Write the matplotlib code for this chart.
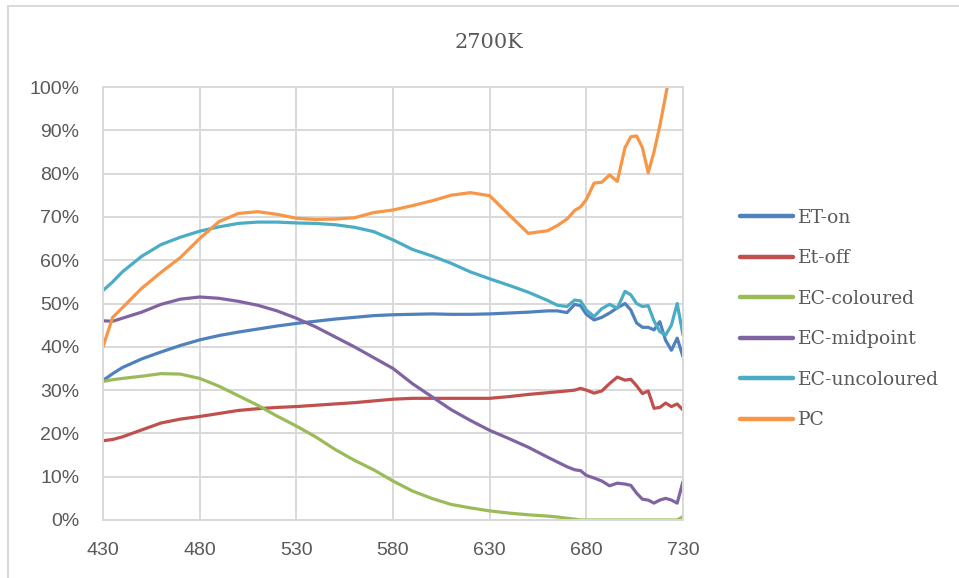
import matplotlib
matplotlib.use("Agg")
import matplotlib.pyplot as plt
from matplotlib.lines import Line2D
from matplotlib.ticker import PercentFormatter

wavelength = [430, 435, 440, 450, 460, 470, 480, 490, 500, 510, 520, 530, 540, 550,
              560, 570, 580, 590, 600, 610, 620, 630, 640, 650, 660, 665, 670, 674,
              677, 680, 684, 688, 692, 696, 700, 703, 706, 709, 712, 715, 718, 721,
              724, 727, 730]

et_on = [32.2, 33.8, 35.2, 37.2, 38.8, 40.3, 41.6, 42.6, 43.4, 44.1, 44.8, 45.4, 45.9, 46.4,
         46.8, 47.2, 47.4, 47.5, 47.6, 47.5, 47.5, 47.6, 47.8, 48.0, 48.3, 48.3, 47.9, 49.8,
         49.5, 47.5, 46.2, 46.8, 47.8, 49.0, 50.0, 48.5, 45.5, 44.5, 44.5, 43.9, 45.8, 41.5,
         39.2, 42.0, 37.7]

et_off = [18.3, 18.6, 19.2, 20.8, 22.4, 23.3, 23.9, 24.6, 25.3, 25.7, 26.0, 26.2, 26.5, 26.8,
          27.1, 27.5, 27.9, 28.1, 28.1, 28.1, 28.1, 28.1, 28.5, 29.0, 29.4, 29.6, 29.8, 30.0,
          30.4, 30.0, 29.3, 29.8, 31.5, 33.0, 32.3, 32.5, 31.0, 29.2, 29.8, 25.8, 26.0, 27.0,
          26.2, 26.8, 25.4]

ec_coloured = [32.0, 32.4, 32.7, 33.2, 33.8, 33.7, 32.7, 30.9, 28.7, 26.5, 24.0, 21.7, 19.2, 16.3,
               13.8, 11.6, 9.0, 6.7, 5.0, 3.6, 2.8, 2.1, 1.6, 1.2, 0.9, 0.7, 0.4, 0.2,
               0.0, 0.0, 0.0, 0.0, 0.0, 0.0, 0.0, 0.0, 0.0, 0.0, 0.0, 0.0, 0.0, 0.0,
               0.0, 0.0, 0.8]

ec_midpoint = [46.0, 45.9, 46.6, 48.0, 49.8, 51.0, 51.5, 51.2, 50.5, 49.6, 48.3, 46.6, 44.6, 42.3,
               40.0, 37.5, 35.0, 31.5, 28.5, 25.5, 23.0, 20.7, 18.8, 16.8, 14.5, 13.4, 12.3, 11.6,
               11.4, 10.3, 9.7, 9.0, 7.9, 8.5, 8.3, 8.0, 6.2, 4.8, 4.6, 3.9, 4.6, 5.0,
               4.6, 3.9, 8.9]

ec_uncoloured = [53.0, 55.0, 57.3, 60.9, 63.6, 65.3, 66.7, 67.7, 68.5, 68.8, 68.8, 68.6, 68.5, 68.2,
                 67.6, 66.6, 64.7, 62.5, 61.0, 59.3, 57.3, 55.7, 54.2, 52.6, 50.7, 49.6, 49.3, 50.8,
                 50.6, 48.5, 47.0, 48.8, 49.8, 48.9, 52.8, 52.0, 50.0, 49.3, 49.5, 46.0, 43.5, 42.7,
                 45.0, 50.0, 42.7]

pc = [40.0, 46.8, 49.0, 53.5, 57.2, 60.6, 65.0, 68.9, 70.8, 71.2, 70.6, 69.7, 69.4, 69.5,
      69.8, 71.0, 71.6, 72.6, 73.7, 75.0, 75.6, 74.9, 70.5, 66.2, 66.8, 68.0, 69.5, 71.5,
      72.3, 74.0, 77.8, 78.0, 79.7, 78.2, 86.0, 88.5, 88.7, 86.0, 80.2, 85.0, 91.0, 98.0,
      105.0, 111.0, 117.0]

series = [
    ("ET-on", et_on, "#4F81BD"),
    ("Et-off", et_off, "#C0504D"),
    ("EC-coloured", ec_coloured, "#9BBB59"),
    ("EC-midpoint", ec_midpoint, "#8064A2"),
    ("EC-uncoloured", ec_uncoloured, "#4BACC6"),
    ("PC", pc, "#F79646"),
]

grey = "#D9D9D9"
text_col = "#595959"

fig = plt.figure(figsize=(9.59, 5.78), dpi=100)
ax = fig.add_axes([103 / 959, 1 - 520 / 578, 580 / 959, 433 / 578])

for name, vals, col in series:
    ax.plot(wavelength, vals, color=col, lw=2.3, label=name,
            solid_joinstyle="round", solid_capstyle="round")

ax.set_xlim(430, 730)
ax.set_ylim(0, 100)
ax.set_xticks(range(430, 731, 50))
ax.set_yticks(range(0, 101, 10))
ax.yaxis.set_major_formatter(PercentFormatter(decimals=0))
ax.grid(True, color=grey, lw=1.4)
ax.set_axisbelow(True)
for sp in ax.spines.values():
    sp.set_color(grey)
    sp.set_linewidth(1.4)
ax.tick_params(length=0, colors=text_col, labelsize=14)
ax.tick_params(axis="y", pad=17)
ax.tick_params(axis="x", pad=16)
for lab in ax.get_xticklabels() + ax.get_yticklabels():
    lab.set_fontfamily("Liberation Sans")

fig.text(489 / 959, 1 - 42 / 578, "2700K", ha="center", va="center",
         fontsize=15, family="DejaVu Serif", color=text_col)

leg = ax.legend(loc="center left", bbox_to_anchor=(740 / 959, 1 - 319 / 578),
                bbox_transform=fig.transFigure, frameon=False, borderpad=0,
                borderaxespad=0, handlelength=2.8, handletextpad=0.3,
                labelspacing=1.2, prop={"family": "DejaVu Serif", "size": 13.5})
for t in leg.get_texts():
    t.set_color(text_col)
for h in leg.legend_handles:
    h.set_linewidth(3.2)

# outer chart border (top and left edges visible)
fig.add_artist(Line2D([7.5 / 959, 1], [1 - 5.5 / 578, 1 - 5.5 / 578], color=grey, lw=1.4))
fig.add_artist(Line2D([7.5 / 959, 7.5 / 959], [0, 1 - 5.5 / 578], color=grey, lw=1.4))

fig.savefig("out.png", dpi=100)
